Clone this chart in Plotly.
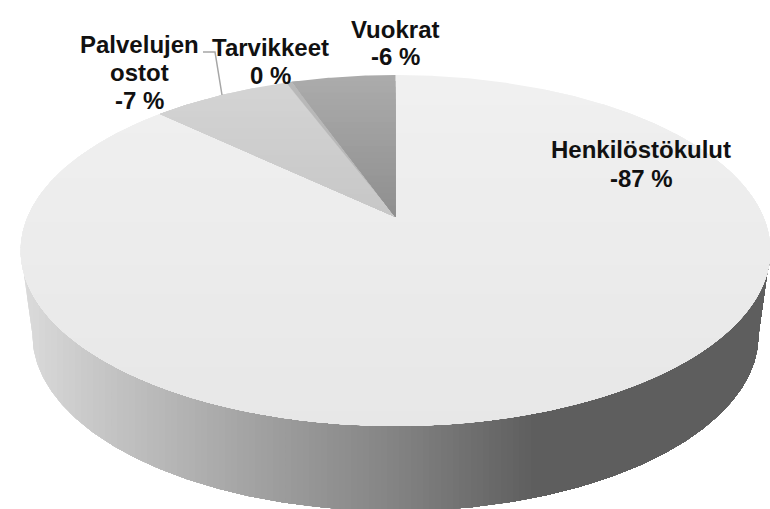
import numpy as np
import plotly.graph_objects as go

categories = ["Henkilöstökulut", "Palvelujen ostot", "Tarvikkeet", "Vuokrat"]
shares = [87.1, 7.2, 0.3, 5.4]
percent_labels = ["-87 %", "-7 %", "0 %", "-6 %"]

W, H = 770, 509
CX, APEX_Y = 395.5, 217.0
K, A, B = 0.1909, 169.1, 368.0
top_grey = [(240, 231), (212, 198), (184, 184), (171, 142)]


def project(theta):
    u, v = np.sin(theta), np.cos(theta)
    w = 1 + K * v
    return CX + B * u / w, APEX_Y - A * v / w


def clip(poly, axis, limit):
    out = []
    n = len(poly)
    for i in range(n):
        p, q = poly[i], poly[(i + 1) % n]
        a, b = p[axis] >= limit, q[axis] >= limit
        if a:
            out.append(p)
        if a != b:
            t = (limit - p[axis]) / (q[axis] - p[axis])
            out.append((p[0] + t * (q[0] - p[0]), p[1] + t * (q[1] - p[1])))
    return out


def grey(g):
    g = int(round(g))
    return f"rgb({g},{g},{g})"


def add_poly(fig, poly, colour, name):
    if len(poly) < 3:
        return
    xs = [p[0] for p in poly] + [poly[0][0]]
    ys = [p[1] for p in poly] + [poly[0][1]]
    fig.add_trace(go.Scatter(x=xs, y=ys, mode="lines", fill="toself", fillcolor=colour,
                             line=dict(width=0, color=colour), name=name,
                             hoverinfo="skip", showlegend=False))


fig = go.Figure()

# side wall, painted left to right so that the gradient has no seams
BOT_Y, BOT_RX, BOT_RY = 335.0, 363.0, 176.0
arc = np.linspace(np.pi * 0.54, np.pi * 1.46, 260)
x_arc, y_arc = project(arc)
left_end = int(np.argmin(x_arc))
right_end = int(np.argmax(x_arc))
i0, i1 = sorted((left_end, right_end))
upper = list(zip(x_arc[i0:i1 + 1], y_arc[i0:i1 + 1]))
if upper[0][0] > upper[-1][0]:
    upper.reverse()
phi = np.linspace(0, np.pi, 240)
lower = list(zip(CX + BOT_RX * np.cos(phi), BOT_Y + BOT_RY * np.sin(phi)))
wall = upper + lower
stops_x = [21, 100, 250, 396, 535, 770]
stops_g = [220, 198, 163, 131, 94, 94]
edges = np.arange(21, 560, 6)
add_poly(fig, wall, grey(stops_g[0]), "wall")
for e in edges:
    add_poly(fig, clip(wall, 0, float(e)), grey(np.interp(e + 3, stops_x, stops_g)), "wall")

# top face: one wedge per value, vertical gradient
start = 0.0
total = sum(shares)
for name, share, (g_top, g_bot) in zip(categories, shares, top_grey):
    span = 2 * np.pi * share / total
    t = np.linspace(start, start + span, max(6, int(share * 8)))
    px, py = project(t)
    wedge = [(CX, APEX_Y)] + list(zip(px, py))
    ymin, ymax = min(p[1] for p in wedge), max(p[1] for p in wedge)
    steps = 24 if share > 2 else 1
    add_poly(fig, wedge, grey(g_top), name)
    for s in range(1, steps):
        lim = ymin + (ymax - ymin) * s / steps
        add_poly(fig, clip(wedge, 1, lim), grey(g_top + (g_bot - g_top) * s / steps), name)
    start += span

font = dict(family="Liberation Sans, Arial, sans-serif", size=24, color="#111111")
label_lines = [
    (categories[0], 641, 149), (percent_labels[0], 641, 178),
    ("Palvelujen", 139, 44), ("ostot", 139, 72), (percent_labels[1], 139, 100),
    (categories[2], 270, 47), (percent_labels[2], 270, 75),
    (categories[3], 395, 29), (percent_labels[3], 395, 56),
]
annotations = [
    dict(x=x, y=y, text=f"<b>{txt}</b>", showarrow=False, xref="x", yref="y",
         xanchor="center", yanchor="middle", font=font)
    for txt, x, y in label_lines
]

fig.update_layout(
    width=W, height=H, margin=dict(l=0, r=0, t=0, b=0),
    paper_bgcolor="white", plot_bgcolor="white", showlegend=False,
    xaxis=dict(range=[0, W], visible=False, fixedrange=True),
    yaxis=dict(range=[H, 0], visible=False, fixedrange=True),
    annotations=annotations,
    shapes=[dict(type="path", path="M 203 52 L 215 52 L 222 95",
                 line=dict(color="#a6a6a6", width=1.5))],
)
fig.write_html("out.html", config=dict(displayModeBar=False),
               post_script="document.body.style.margin='0';document.body.style.overflow='hidden';")
